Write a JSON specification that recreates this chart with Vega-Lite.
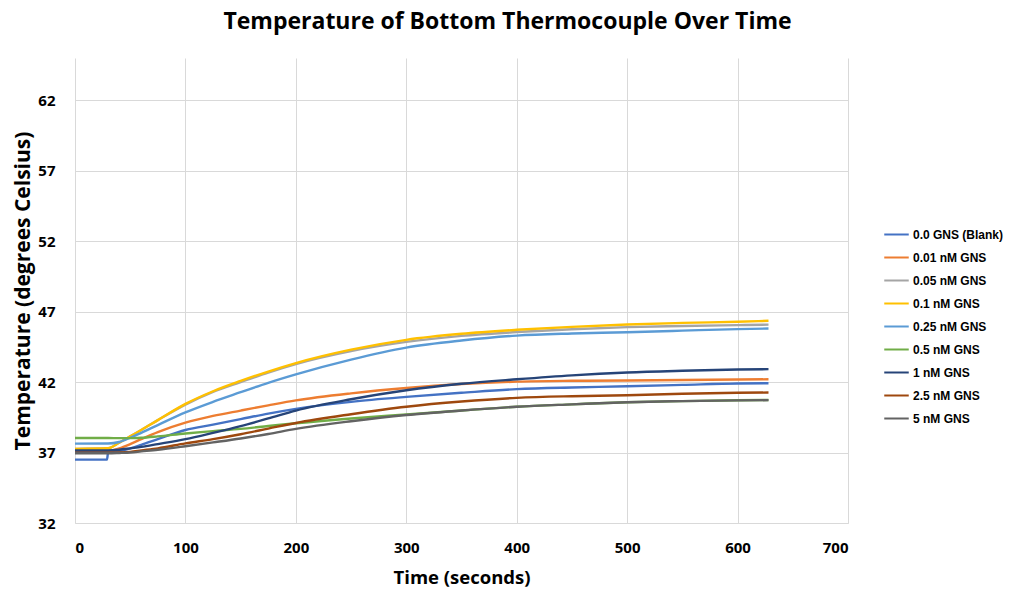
{
  "$schema": "https://vega.github.io/schema/vega-lite/v6.json",
  "width": 773,
  "height": 465,
  "autosize": {"type": "none"},
  "padding": {"left": 75, "top": 58, "right": 173, "bottom": 71},
  "background": "white",
  "title": {
    "text": "Temperature of Bottom Thermocouple Over Time",
    "font": "Open Sans",
    "fontSize": 23,
    "fontWeight": "bold",
    "color": "#000000",
    "anchor": "middle",
    "dx": 46,
    "offset": 24
  },
  "config": {
    "view": {"stroke": null},
    "axis": {
      "gridColor": "#d9d9d9",
      "gridWidth": 1,
      "domainColor": "#d9d9d9",
      "ticks": false,
      "labelFont": "Open Sans",
      "labelFontWeight": "bold",
      "labelFontSize": 15,
      "labelColor": "#000000",
      "titleFont": "Open Sans",
      "titleFontWeight": "bold",
      "titleColor": "#000000"
    }
  },
  "data": {
    "values": [
      {"series": "0.0 GNS (Blank)", "time": 0, "temp": 36.5},
      {"series": "0.0 GNS (Blank)", "time": 29, "temp": 36.5},
      {"series": "0.0 GNS (Blank)", "time": 30, "temp": 37.02},
      {"series": "0.0 GNS (Blank)", "time": 40, "temp": 37.1},
      {"series": "0.0 GNS (Blank)", "time": 50, "temp": 37.3},
      {"series": "0.0 GNS (Blank)", "time": 60, "temp": 37.55},
      {"series": "0.0 GNS (Blank)", "time": 75, "temp": 37.95},
      {"series": "0.0 GNS (Blank)", "time": 100, "temp": 38.6},
      {"series": "0.0 GNS (Blank)", "time": 125, "temp": 38.98},
      {"series": "0.0 GNS (Blank)", "time": 150, "temp": 39.37},
      {"series": "0.0 GNS (Blank)", "time": 175, "temp": 39.76},
      {"series": "0.0 GNS (Blank)", "time": 200, "temp": 40.1},
      {"series": "0.0 GNS (Blank)", "time": 250, "temp": 40.6},
      {"series": "0.0 GNS (Blank)", "time": 300, "temp": 40.95},
      {"series": "0.0 GNS (Blank)", "time": 350, "temp": 41.24},
      {"series": "0.0 GNS (Blank)", "time": 400, "temp": 41.5},
      {"series": "0.0 GNS (Blank)", "time": 450, "temp": 41.62},
      {"series": "0.0 GNS (Blank)", "time": 500, "temp": 41.7},
      {"series": "0.0 GNS (Blank)", "time": 550, "temp": 41.8},
      {"series": "0.0 GNS (Blank)", "time": 600, "temp": 41.9},
      {"series": "0.0 GNS (Blank)", "time": 628, "temp": 41.92},

      {"series": "0.01 nM GNS", "time": 0, "temp": 37.1},
      {"series": "0.01 nM GNS", "time": 30, "temp": 37.12},
      {"series": "0.01 nM GNS", "time": 40, "temp": 37.3},
      {"series": "0.01 nM GNS", "time": 50, "temp": 37.6},
      {"series": "0.01 nM GNS", "time": 60, "temp": 37.95},
      {"series": "0.01 nM GNS", "time": 75, "temp": 38.45},
      {"series": "0.01 nM GNS", "time": 100, "temp": 39.12},
      {"series": "0.01 nM GNS", "time": 125, "temp": 39.6},
      {"series": "0.01 nM GNS", "time": 150, "temp": 39.98},
      {"series": "0.01 nM GNS", "time": 175, "temp": 40.35},
      {"series": "0.01 nM GNS", "time": 200, "temp": 40.7},
      {"series": "0.01 nM GNS", "time": 250, "temp": 41.2},
      {"series": "0.01 nM GNS", "time": 300, "temp": 41.58},
      {"series": "0.01 nM GNS", "time": 350, "temp": 41.86},
      {"series": "0.01 nM GNS", "time": 400, "temp": 42.03},
      {"series": "0.01 nM GNS", "time": 450, "temp": 42.09},
      {"series": "0.01 nM GNS", "time": 500, "temp": 42.11},
      {"series": "0.01 nM GNS", "time": 550, "temp": 42.15},
      {"series": "0.01 nM GNS", "time": 600, "temp": 42.18},
      {"series": "0.01 nM GNS", "time": 628, "temp": 42.2},

      {"series": "0.05 nM GNS", "time": 0, "temp": 37.26},
      {"series": "0.05 nM GNS", "time": 30, "temp": 37.3},
      {"series": "0.05 nM GNS", "time": 40, "temp": 37.7},
      {"series": "0.05 nM GNS", "time": 50, "temp": 38.15},
      {"series": "0.05 nM GNS", "time": 60, "temp": 38.6},
      {"series": "0.05 nM GNS", "time": 75, "temp": 39.3},
      {"series": "0.05 nM GNS", "time": 100, "temp": 40.4},
      {"series": "0.05 nM GNS", "time": 125, "temp": 41.3},
      {"series": "0.05 nM GNS", "time": 150, "temp": 42.0},
      {"series": "0.05 nM GNS", "time": 175, "temp": 42.68},
      {"series": "0.05 nM GNS", "time": 200, "temp": 43.28},
      {"series": "0.05 nM GNS", "time": 250, "temp": 44.2},
      {"series": "0.05 nM GNS", "time": 300, "temp": 44.85},
      {"series": "0.05 nM GNS", "time": 350, "temp": 45.28},
      {"series": "0.05 nM GNS", "time": 400, "temp": 45.55},
      {"series": "0.05 nM GNS", "time": 450, "temp": 45.75},
      {"series": "0.05 nM GNS", "time": 500, "temp": 45.9},
      {"series": "0.05 nM GNS", "time": 550, "temp": 45.98},
      {"series": "0.05 nM GNS", "time": 600, "temp": 46.04},
      {"series": "0.05 nM GNS", "time": 628, "temp": 46.08},

      {"series": "0.1 nM GNS", "time": 0, "temp": 37.26},
      {"series": "0.1 nM GNS", "time": 30, "temp": 37.3},
      {"series": "0.1 nM GNS", "time": 40, "temp": 37.7},
      {"series": "0.1 nM GNS", "time": 50, "temp": 38.15},
      {"series": "0.1 nM GNS", "time": 60, "temp": 38.6},
      {"series": "0.1 nM GNS", "time": 75, "temp": 39.3},
      {"series": "0.1 nM GNS", "time": 100, "temp": 40.45},
      {"series": "0.1 nM GNS", "time": 125, "temp": 41.35},
      {"series": "0.1 nM GNS", "time": 150, "temp": 42.08},
      {"series": "0.1 nM GNS", "time": 175, "temp": 42.75},
      {"series": "0.1 nM GNS", "time": 200, "temp": 43.35},
      {"series": "0.1 nM GNS", "time": 250, "temp": 44.3},
      {"series": "0.1 nM GNS", "time": 300, "temp": 45.0},
      {"series": "0.1 nM GNS", "time": 350, "temp": 45.43},
      {"series": "0.1 nM GNS", "time": 400, "temp": 45.71},
      {"series": "0.1 nM GNS", "time": 450, "temp": 45.92},
      {"series": "0.1 nM GNS", "time": 500, "temp": 46.09},
      {"series": "0.1 nM GNS", "time": 550, "temp": 46.2},
      {"series": "0.1 nM GNS", "time": 600, "temp": 46.28},
      {"series": "0.1 nM GNS", "time": 628, "temp": 46.35},

      {"series": "0.25 nM GNS", "time": 0, "temp": 37.63},
      {"series": "0.25 nM GNS", "time": 30, "temp": 37.64},
      {"series": "0.25 nM GNS", "time": 40, "temp": 37.75},
      {"series": "0.25 nM GNS", "time": 50, "temp": 38.05},
      {"series": "0.25 nM GNS", "time": 60, "temp": 38.4},
      {"series": "0.25 nM GNS", "time": 75, "temp": 38.95},
      {"series": "0.25 nM GNS", "time": 100, "temp": 39.85},
      {"series": "0.25 nM GNS", "time": 125, "temp": 40.6},
      {"series": "0.25 nM GNS", "time": 150, "temp": 41.28},
      {"series": "0.25 nM GNS", "time": 175, "temp": 41.95},
      {"series": "0.25 nM GNS", "time": 200, "temp": 42.55},
      {"series": "0.25 nM GNS", "time": 250, "temp": 43.6},
      {"series": "0.25 nM GNS", "time": 300, "temp": 44.45},
      {"series": "0.25 nM GNS", "time": 350, "temp": 44.95},
      {"series": "0.25 nM GNS", "time": 400, "temp": 45.3},
      {"series": "0.25 nM GNS", "time": 450, "temp": 45.45},
      {"series": "0.25 nM GNS", "time": 500, "temp": 45.54},
      {"series": "0.25 nM GNS", "time": 550, "temp": 45.65},
      {"series": "0.25 nM GNS", "time": 600, "temp": 45.76},
      {"series": "0.25 nM GNS", "time": 628, "temp": 45.8},

      {"series": "0.5 nM GNS", "time": 0, "temp": 38.03},
      {"series": "0.5 nM GNS", "time": 30, "temp": 38.03},
      {"series": "0.5 nM GNS", "time": 40, "temp": 38.02},
      {"series": "0.5 nM GNS", "time": 50, "temp": 38.02},
      {"series": "0.5 nM GNS", "time": 60, "temp": 38.05},
      {"series": "0.5 nM GNS", "time": 75, "temp": 38.15},
      {"series": "0.5 nM GNS", "time": 100, "temp": 38.35},
      {"series": "0.5 nM GNS", "time": 125, "temp": 38.52},
      {"series": "0.5 nM GNS", "time": 150, "temp": 38.68},
      {"series": "0.5 nM GNS", "time": 175, "temp": 38.88},
      {"series": "0.5 nM GNS", "time": 200, "temp": 39.08},
      {"series": "0.5 nM GNS", "time": 250, "temp": 39.42},
      {"series": "0.5 nM GNS", "time": 300, "temp": 39.7},
      {"series": "0.5 nM GNS", "time": 350, "temp": 39.98},
      {"series": "0.5 nM GNS", "time": 400, "temp": 40.25},
      {"series": "0.5 nM GNS", "time": 450, "temp": 40.42},
      {"series": "0.5 nM GNS", "time": 500, "temp": 40.57},
      {"series": "0.5 nM GNS", "time": 550, "temp": 40.65},
      {"series": "0.5 nM GNS", "time": 600, "temp": 40.71},
      {"series": "0.5 nM GNS", "time": 628, "temp": 40.73},

      {"series": "1 nM GNS", "time": 0, "temp": 37.14},
      {"series": "1 nM GNS", "time": 30, "temp": 37.15},
      {"series": "1 nM GNS", "time": 40, "temp": 37.2},
      {"series": "1 nM GNS", "time": 50, "temp": 37.3},
      {"series": "1 nM GNS", "time": 60, "temp": 37.4},
      {"series": "1 nM GNS", "time": 75, "temp": 37.6},
      {"series": "1 nM GNS", "time": 100, "temp": 37.95},
      {"series": "1 nM GNS", "time": 125, "temp": 38.4},
      {"series": "1 nM GNS", "time": 150, "temp": 38.88},
      {"series": "1 nM GNS", "time": 175, "temp": 39.42},
      {"series": "1 nM GNS", "time": 200, "temp": 39.98},
      {"series": "1 nM GNS", "time": 250, "temp": 40.78},
      {"series": "1 nM GNS", "time": 300, "temp": 41.42},
      {"series": "1 nM GNS", "time": 350, "temp": 41.88},
      {"series": "1 nM GNS", "time": 400, "temp": 42.2},
      {"series": "1 nM GNS", "time": 450, "temp": 42.48},
      {"series": "1 nM GNS", "time": 500, "temp": 42.68},
      {"series": "1 nM GNS", "time": 550, "temp": 42.8},
      {"series": "1 nM GNS", "time": 600, "temp": 42.89},
      {"series": "1 nM GNS", "time": 628, "temp": 42.92},

      {"series": "2.5 nM GNS", "time": 0, "temp": 36.98},
      {"series": "2.5 nM GNS", "time": 30, "temp": 36.98},
      {"series": "2.5 nM GNS", "time": 40, "temp": 37.0},
      {"series": "2.5 nM GNS", "time": 50, "temp": 37.05},
      {"series": "2.5 nM GNS", "time": 60, "temp": 37.15},
      {"series": "2.5 nM GNS", "time": 75, "temp": 37.3},
      {"series": "2.5 nM GNS", "time": 100, "temp": 37.65},
      {"series": "2.5 nM GNS", "time": 125, "temp": 37.95},
      {"series": "2.5 nM GNS", "time": 150, "temp": 38.3},
      {"series": "2.5 nM GNS", "time": 175, "temp": 38.7},
      {"series": "2.5 nM GNS", "time": 200, "temp": 39.1},
      {"series": "2.5 nM GNS", "time": 250, "temp": 39.72},
      {"series": "2.5 nM GNS", "time": 300, "temp": 40.25},
      {"series": "2.5 nM GNS", "time": 350, "temp": 40.62},
      {"series": "2.5 nM GNS", "time": 400, "temp": 40.88},
      {"series": "2.5 nM GNS", "time": 450, "temp": 41.0},
      {"series": "2.5 nM GNS", "time": 500, "temp": 41.07},
      {"series": "2.5 nM GNS", "time": 550, "temp": 41.17},
      {"series": "2.5 nM GNS", "time": 600, "temp": 41.24},
      {"series": "2.5 nM GNS", "time": 628, "temp": 41.26},

      {"series": "5 nM GNS", "time": 0, "temp": 36.95},
      {"series": "5 nM GNS", "time": 30, "temp": 36.95},
      {"series": "5 nM GNS", "time": 40, "temp": 36.97},
      {"series": "5 nM GNS", "time": 50, "temp": 37.0},
      {"series": "5 nM GNS", "time": 60, "temp": 37.08},
      {"series": "5 nM GNS", "time": 75, "temp": 37.2},
      {"series": "5 nM GNS", "time": 100, "temp": 37.45},
      {"series": "5 nM GNS", "time": 125, "temp": 37.72},
      {"series": "5 nM GNS", "time": 150, "temp": 38.0},
      {"series": "5 nM GNS", "time": 175, "temp": 38.32},
      {"series": "5 nM GNS", "time": 200, "temp": 38.68},
      {"series": "5 nM GNS", "time": 250, "temp": 39.22},
      {"series": "5 nM GNS", "time": 300, "temp": 39.66},
      {"series": "5 nM GNS", "time": 350, "temp": 39.98},
      {"series": "5 nM GNS", "time": 400, "temp": 40.25},
      {"series": "5 nM GNS", "time": 450, "temp": 40.42},
      {"series": "5 nM GNS", "time": 500, "temp": 40.57},
      {"series": "5 nM GNS", "time": 550, "temp": 40.65},
      {"series": "5 nM GNS", "time": 600, "temp": 40.7},
      {"series": "5 nM GNS", "time": 628, "temp": 40.72}
    ]
  },
  "mark": {"type": "line", "strokeWidth": 2.4, "interpolate": "monotone"},
  "encoding": {
    "x": {
      "field": "time",
      "type": "quantitative",
      "scale": {"domain": [0, 700], "nice": false},
      "axis": {
        "values": [0, 100, 200, 300, 400, 500, 600, 700],
        "title": "Time (seconds)",
        "titleFontSize": 18.5,
        "labelPadding": 17,
        "titlePadding": 13,
        "grid": true
      }
    },
    "y": {
      "field": "temp",
      "type": "quantitative",
      "scale": {"domain": [32, 65], "nice": false, "zero": false},
      "axis": {
        "values": [32, 37, 42, 47, 52, 57, 62],
        "title": "Temperature (degrees Celsius)",
        "titleFontSize": 21,
        "labelPadding": 20,
        "titlePadding": 4,
        "domain": false,
        "grid": true
      }
    },
    "color": {
      "field": "series",
      "type": "nominal",
      "sort": null,
      "scale": {
        "domain": ["0.0 GNS (Blank)", "0.01 nM GNS", "0.05 nM GNS", "0.1 nM GNS", "0.25 nM GNS", "0.5 nM GNS", "1 nM GNS", "2.5 nM GNS", "5 nM GNS"],
        "range": ["#4472C4", "#ED7D31", "#A5A5A5", "#FFC000", "#5B9BD5", "#70AD47", "#264478", "#9E480E", "#636363"]
      },
      "legend": {
        "title": null,
        "orient": "none",
        "legendX": 808,
        "legendY": 163,
        "labelFont": "Liberation Sans",
        "labelFontWeight": "bold",
        "labelFontSize": 12,
        "labelColor": "#000000",
        "symbolType": "stroke",
        "symbolSize": 600,
        "symbolStrokeWidth": 2,
        "labelOffset": 3,
        "rowPadding": 3
      }
    }
  }
}
